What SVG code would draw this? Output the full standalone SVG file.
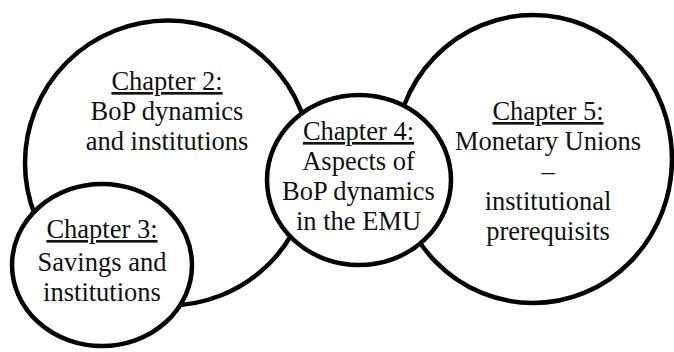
<svg xmlns="http://www.w3.org/2000/svg" width="674" height="352" viewBox="0 0 674 352">
<style>
.c{fill:#fff;stroke:#000;stroke-width:4.5}
.t{font-family:"Liberation Serif","Times New Roman",serif;font-size:26.5px;fill:#111;text-anchor:middle}
.u{text-decoration:underline}
</style>
<rect width="674" height="352" fill="#fff"/>
<g id="chapter2">
<ellipse class="c" cx="168" cy="163" rx="143" ry="142.5"/>
<text class="t u" x="167" y="90">Chapter 2:</text>
<text class="t" x="167" y="120">BoP dynamics</text>
<text class="t" x="167" y="150">and institutions</text>
</g>
<g id="chapter3">
<ellipse class="c" cx="102" cy="265" rx="90" ry="81"/>
<text class="t u" x="102" y="238">Chapter 3:</text>
<text class="t" x="102" y="271">Savings and</text>
<text class="t" x="102" y="301">institutions</text>
</g>
<g id="chapter5">
<ellipse class="c" cx="533" cy="159" rx="139" ry="144"/>
<text class="t u" x="548" y="120">Chapter 5:</text>
<text class="t" x="548" y="150">Monetary Unions</text>
<text class="t" x="548" y="180">–</text>
<text class="t" x="548" y="210">institutional</text>
<text class="t" x="548" y="240">prerequisits</text>
</g>
<g id="chapter4">
<ellipse class="c" cx="359" cy="180" rx="92" ry="85"/>
<text class="t u" x="358.5" y="140">Chapter 4:</text>
<text class="t" x="358.5" y="170">Aspects of</text>
<text class="t" x="358.5" y="200">BoP dynamics</text>
<text class="t" x="358.5" y="230">in the EMU</text>
</g>
<g id="connectors"/>
</svg>
